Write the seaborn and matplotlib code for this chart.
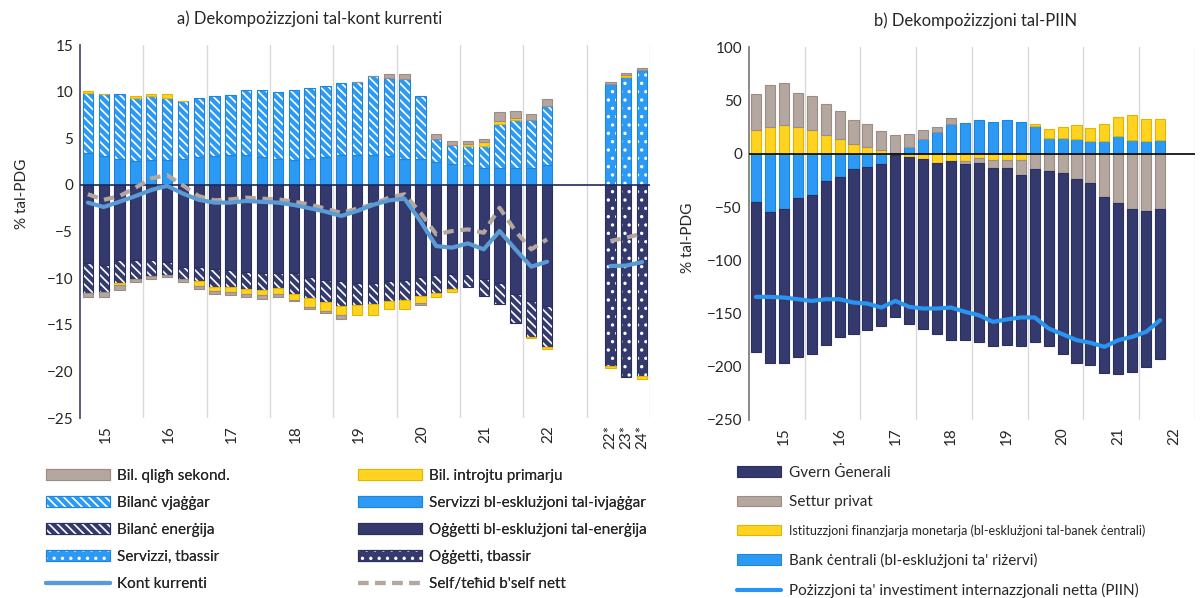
import numpy as np
import pandas as pd
import matplotlib
matplotlib.use('Agg')
import matplotlib.pyplot as plt
import seaborn as sns
from matplotlib.patches import Patch
from matplotlib.lines import Line2D

sns.set_theme(style='white')
plt.rcParams['font.family'] = ['Lato', 'DejaVu Sans']
plt.rcParams['hatch.linewidth'] = 1.2

## ---- data, panel a (% of GDP), quarters 2015Q1..2022Q2 ----
years = ['15', '16', '17', '18', '19', '20', '21', '22']
fc_labels = ['22*', '23*', '24*']

serv_ex_travel = [3.44, 3.07, 2.83, 2.60, 2.72, 2.72, 2.83, 2.97, 3.07, 3.18, 3.18, 2.97, 2.83, 2.72, 2.83,
                  2.97, 3.18, 3.18, 3.18, 3.07, 2.83, 2.83, 2.43, 2.19, 2.08, 1.83, 1.83, 1.83, 1.83, 2.08]
travel = [6.40, 6.66, 6.90, 6.70, 6.76, 6.65, 6.22, 6.33, 6.48, 6.48, 7.01, 7.22, 7.11, 7.47, 7.61,
          7.68, 7.79, 7.90, 8.54, 8.37, 8.50, 6.65, 2.50, 2.10, 2.06, 2.31, 4.70, 5.09, 5.09, 6.33]
goods_ex_energy = [-8.42, -8.58, -8.07, -8.07, -8.07, -8.22, -8.80, -8.80, -9.04, -9.15, -9.30, -9.50, -9.50, -9.50, -9.93,
                   -10.20, -10.33, -10.57, -10.57, -10.36, -10.22, -9.86, -9.68, -9.57, -9.57, -10.04, -10.54, -11.70, -12.40, -12.97]
energy = [-3.18, -2.96, -2.40, -2.03, -1.75, -1.46, -1.30, -1.49, -1.90, -1.85, -1.88, -1.75, -1.57, -2.15, -2.24,
          -2.35, -2.64, -2.33, -2.23, -2.08, -2.14, -2.04, -1.92, -1.58, -1.43, -1.86, -2.26, -3.10, -3.94, -4.46]
primary_inc = [0.20, 0.0, -0.23, 0.20, 0.25, 0.40, 0.0, -0.60, -0.43, -0.47, -0.52, -0.58, -0.63, -0.71, -0.89,
               -0.95, -0.96, -1.03, -1.13, -0.89, -0.90, -0.82, -0.40, -0.35, 0.25, 0.46, 0.35, 0.25, -0.11, -0.17]
secondary_inc = [-0.45, -0.53, -0.57, -0.36, -0.28, -0.25, -0.36, -0.28, -0.29, -0.36, -0.28, -0.43, -0.28, -0.14, -0.24,
                 -0.25, -0.47, 0.0, 0.0, 0.46, 0.57, -0.18, 0.53, 0.46, 0.36, 0.36, 0.89, 0.71, 0.68, 0.79]
current_account = [-1.90, -2.37, -1.80, -1.20, -0.55, -0.10, -0.93, -1.60, -1.90, -1.90, -1.72, -1.82, -1.90, -2.15, -2.50,
                   -2.86, -3.33, -2.80, -2.15, -1.66, -1.48, -3.88, -6.56, -6.73, -6.27, -6.91, -4.95, -6.91, -8.77, -8.24]
net_lending = [-1.00, -1.60, -1.20, -0.30, 0.70, 1.05, -0.05, -1.20, -1.66, -1.55, -1.37, -1.48, -1.55, -1.80, -2.10,
               -2.55, -3.00, -2.55, -2.09, -1.37, -1.00, -2.98, -5.30, -4.95, -4.77, -5.13, -2.45, -4.95, -6.91, -5.84]

# forecasts 2022*, 2023*, 2024*
serv_fc = [10.83, 11.60, 12.33]
goods_fc = [-19.47, -20.64, -20.53]
primary_fc = [-0.18, 0.18, -0.27]
secondary_fc = [0.17, 0.17, 0.17]
current_account_fc = [-8.70, -8.65, -8.27]
net_lending_fc = [-6.02, -5.66, -5.23]

## ---- data, panel b (% of GDP) ----
govt = [-141.3, -141.6, -144.7, -149.0, -149.5, -153.8, -150.0, -154.7, -153.2, -152.5, -152.2, -156.9, -160.3, -160.4, -167.8,
        -165.6, -168.2, -167.6, -166.6, -161.0, -162.5, -164.4, -170.4, -172.2, -171.3, -165.7, -161.3, -153.7, -146.2, -141.2]
private = [33.5, 40.0, 39.7, 32.2, 31.0, 29.1, 26.5, 22.5, 21.2, 18.2, 16.8, 12.5, 8.4, 4.7, 5.3,
           -2.2, -4.4, -6.9, -6.8, -13.4, -14.1, -16.3, -18.1, -24.1, -27.2, -40.6, -45.9, -51.6, -53.8, -51.6]
mfi = [22.8, 25.0, 26.6, 25.0, 22.8, 17.2, 14.1, 9.4, 6.3, 3.1, 1.0, -3.1, -4.7, -8.4, -7.2,
       -7.2, -4.1, -6.3, -6.3, -6.3, 1.6, 8.4, 10.6, 12.5, 12.8, 15.9, 18.1, 23.5, 21.2, 19.7]
central_bank = [-45.3, -54.7, -51.6, -41.6, -39.0, -25.9, -21.9, -14.1, -12.5, -9.4, -1.0, 6.3, 14.1, 20.9, 28.1,
                28.8, 31.3, 30.3, 31.3, 30.3, 25.9, 15.0, 15.0, 14.1, 11.6, 11.6, 16.3, 13.1, 11.6, 13.1]
piin = [-134.4, -134.4, -135.0, -136.6, -138.2, -136.6, -136.6, -139.7, -140.7, -144.4, -138.2, -143.8, -145.3, -145.3, -144.4,
        -148.4, -151.6, -157.8, -155.6, -153.7, -153.7, -164.1, -169.4, -175.0, -177.5, -181.3, -175.0, -171.9, -167.2, -156.3]

## colours
NAVY = '#343A6E'
BLUE = '#2C9AF4'
TAUPE = '#B4A79F'
YELLOW = '#FFD320'
LINE_BLUE = '#5B9BD5'
PIIN_BLUE = '#2A95F0'
GRID = '#D9D9D9'
EDGES = {NAVY: '#2A2F5C', BLUE: '#1E84DC', TAUPE: '#9C8C84', YELLOW: '#E2B500'}


def stacked(ax, x, layers, width):
    ## layers: list of (values, colour, hatch); stacks + and - separately like excel
    pos = np.zeros(len(x))
    neg = np.zeros(len(x))
    for vals, col, hatch in layers:
        v = np.array(vals, dtype=float)
        bottom = np.where(v >= 0, pos, neg)
        if hatch:
            ax.bar(x, v, width, bottom=bottom, color=col, edgecolor='white', linewidth=0, hatch=hatch, zorder=2)
            ax.bar(x, v, width, bottom=bottom, fill=False, edgecolor=EDGES[col], linewidth=0.8, zorder=2)
        else:
            ax.bar(x, v, width, bottom=bottom, color=col, edgecolor=EDGES[col], linewidth=0.8, zorder=2)
        pos = pos + np.where(v >= 0, v, 0)
        neg = neg + np.where(v < 0, v, 0)


fig = plt.figure(figsize=(12.01, 5.98), dpi=100)
axa = fig.add_axes([0.0666, 0.301, 0.4746, 0.6237])
axb = fig.add_axes([0.6236, 0.2977, 0.3714, 0.6232])

## ---- panel a ----
xh = np.arange(len(serv_ex_travel))
xf = np.arange(33, 36)
stacked(axa, xh, [(serv_ex_travel, BLUE, None), (travel, BLUE, '\\\\\\\\'),
                  (goods_ex_energy, NAVY, None), (energy, NAVY, '\\\\\\\\'),
                  (primary_inc, YELLOW, None), (secondary_inc, TAUPE, None)], 0.66)
stacked(axa, xf, [(serv_fc, BLUE, '..'), (goods_fc, NAVY, '..'),
                  (primary_fc, YELLOW, None), (secondary_fc, TAUPE, None)], 0.66)

for xs, ca, nl in [(xh, current_account, net_lending), (xf, current_account_fc, net_lending_fc)]:
    d = pd.DataFrame({'x': xs, 'ca': ca, 'nl': nl})
    sns.lineplot(data=d, x='x', y='nl', ax=axa, color=TAUPE, linewidth=3,
                 linestyle=(0, (2.5, 1.6)), zorder=4, legend=False)
    sns.lineplot(data=d, x='x', y='ca', ax=axa, color=LINE_BLUE, linewidth=3, zorder=5, legend=False)

axa.axhline(0, color='#1F2A5C', lw=1.2, zorder=3)
for g in np.arange(3.5, 36, 4):
    axa.axvline(g, color=GRID, lw=1, zorder=0)
axa.set_xlim(-0.5, 35.5)
axa.set_ylim(-25, 15)
axa.set_yticks(np.arange(-25, 16, 5))
axa.set_xticks(list(np.arange(len(years)) * 4 + 1.1) + list(xf))
axa.set_xticklabels(years + fc_labels, rotation=90)

## ---- panel b ----
xb = np.arange(len(govt))
stacked(axb, xb, [(central_bank, BLUE, None), (mfi, YELLOW, None),
                  (private, TAUPE, None), (govt, NAVY, None)], 0.72)
sns.lineplot(x=xb, y=piin, ax=axb, color=PIIN_BLUE, linewidth=3, zorder=5, legend=False)
axb.axhline(0, color='black', lw=1.2, zorder=3)
for g in np.arange(3.5, 32, 4):
    axb.axvline(g, color=GRID, lw=1, zorder=0)
axb.set_xlim(-0.5, 31.5)
axb.set_ylim(-250, 100)
axb.set_yticks(np.arange(-250, 101, 50))
axb.set_xticks(np.arange(len(years)) * 4 + 2.0)
axb.set_xticklabels(years, rotation=90)

for ax, sc in [(axa, '#4A4F78'), (axb, '#808080')]:
    for s in ['top', 'right', 'bottom']:
        ax.spines[s].set_visible(False)
    ax.spines['left'].set_color(sc)
    ax.spines['left'].set_linewidth(1.3)
    ax.tick_params(axis='both', length=0, labelsize=11, colors='#262626', pad=5)
    ax.set_xlabel('')
    ax.set_ylabel('% tal-PDG', fontsize=11, color='#262626')
axa.yaxis.set_label_coords(-0.09, 0.6)
axb.yaxis.set_label_coords(-0.12, 0.49)

fig.text(0.258, 0.968, 'a) Dekompożizzjoni tal-kont kurrenti', ha='center', va='center', fontsize=12, color='#262626')
fig.text(0.812, 0.966, 'b) Dekompożizzjoni tal-PIIN', ha='center', va='center', fontsize=12, color='#262626')

## ---- legends ----
def hpatch(col, hatch=None):
    if hatch:
        return (Patch(facecolor=col, edgecolor='white', linewidth=0, hatch=hatch),
                Patch(fill=False, edgecolor=EDGES[col], linewidth=0.8))
    return Patch(facecolor=col, edgecolor=EDGES[col], linewidth=0.8)

col1 = [(hpatch(TAUPE), 'Bil. qligħ sekond.'),
        (hpatch(BLUE, '\\\\\\\\'), 'Bilanċ vjaġġar'),
        (hpatch(NAVY, '\\\\\\\\'), 'Bilanċ enerġija'),
        (hpatch(BLUE, '..'), 'Servizzi, tbassir'),
        (Line2D([], [], color=LINE_BLUE, lw=3), 'Kont kurrenti')]
col2 = [(hpatch(YELLOW), 'Bil. introjtu primarju'),
        (hpatch(BLUE), 'Servizzi bl-esklużjoni tal-ivjaġġar'),
        (hpatch(NAVY), 'Oġġetti bl-esklużjoni tal-enerġija'),
        (hpatch(NAVY, '..'), 'Oġġetti, tbassir'),
        (Line2D([], [], color=TAUPE, lw=3, linestyle=(0, (2.5, 1.6))), "Self/teħid b'self nett")]

for items, xpos in [(col1, 46 / 1201), (col2, 358 / 1201)]:
    leg = fig.legend([h for h, _ in items], [l for _, l in items], loc='upper left',
                     bbox_to_anchor=(xpos, 1 - 469 / 598), frameon=False, fontsize=11,
                     handlelength=4.2, handleheight=0.7, handletextpad=0.45, labelspacing=0.85,
                     borderpad=0, borderaxespad=0)
    fig.add_artist(leg)

items_b = [(hpatch(NAVY), 'Gvern Ġenerali'),
           (hpatch(TAUPE), 'Settur privat'),
           (hpatch(YELLOW), 'Istituzzjoni finanzjarja monetarja (bl-esklużjoni tal-banek ċentrali)'),
           (hpatch(BLUE), "Bank ċentrali (bl-esklużjoni ta' riżervi)"),
           (Line2D([], [], color=PIIN_BLUE, lw=3), "Pożizzjoni ta' investiment internazzjonali netta (PIIN)")]
legb = fig.legend([h for h, _ in items_b], [l for _, l in items_b], loc='upper left',
                  bbox_to_anchor=(737 / 1201, 1 - 466 / 598), frameon=False, fontsize=11,
                  handlelength=2.9, handleheight=0.7, handletextpad=0.5, labelspacing=1.0,
                  borderpad=0, borderaxespad=0)
legb.get_texts()[2].set_fontsize(9)

fig.savefig('out.png', dpi=100)
